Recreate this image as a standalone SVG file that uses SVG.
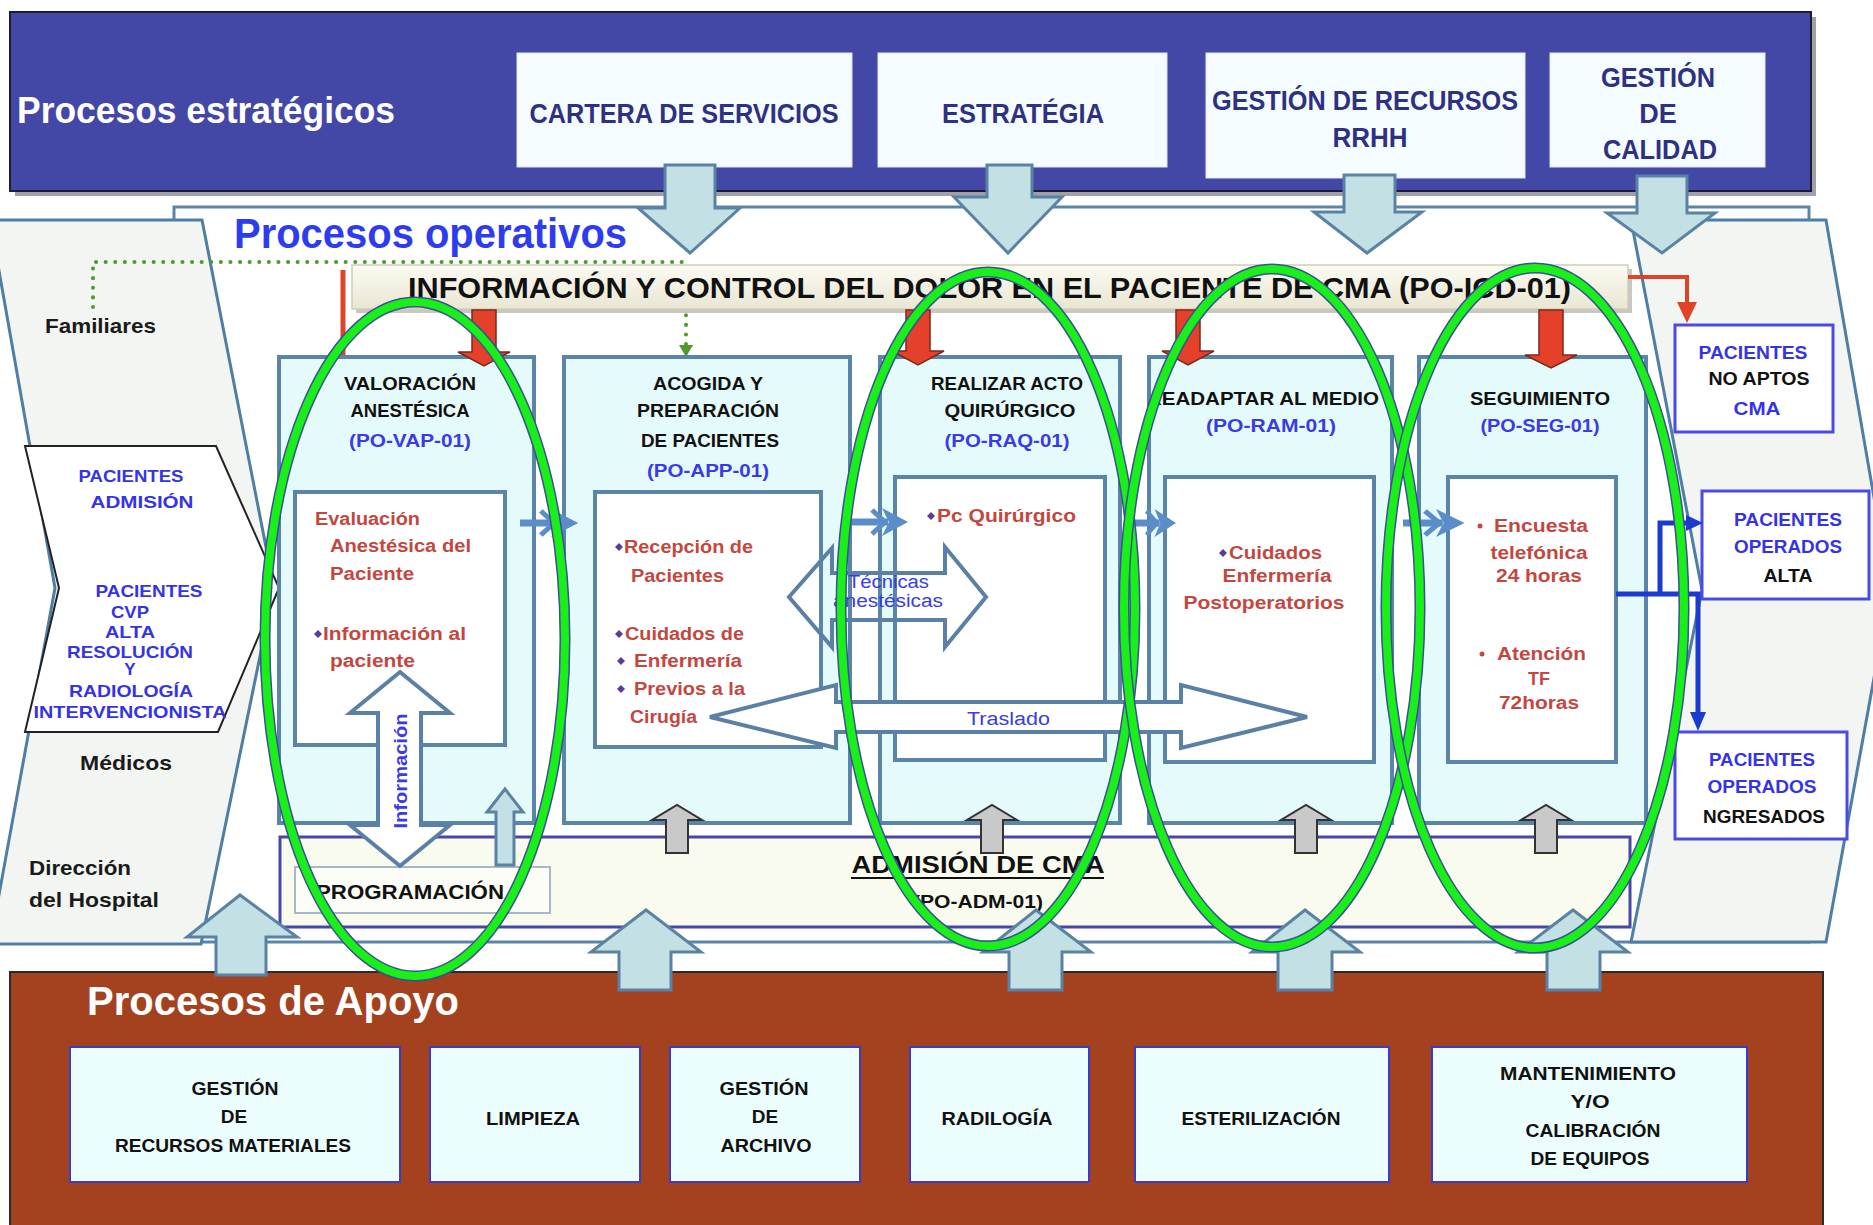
<svg xmlns="http://www.w3.org/2000/svg" width="1873" height="1225" viewBox="0 0 1873 1225">
<defs>
<style>
text{font-family:"Liberation Sans",Arial,sans-serif;}
.strat{font-size:27px;font-weight:bold;fill:#2e3183;text-anchor:middle}
.pt{font-size:18px;font-weight:bold;fill:#111;text-anchor:middle}
.pc{font-size:18px;font-weight:bold;fill:#3b3be6;text-anchor:middle}
.in{font-size:18px;font-weight:bold;fill:#c4473f}
.inm{font-size:18px;font-weight:bold;fill:#c4473f;text-anchor:middle}
.ch{font-size:17px;font-weight:bold;fill:#3434e6;text-anchor:middle}
.lbl{font-size:21px;font-weight:bold;fill:#1a1a1a}
.rb{font-size:18px;font-weight:bold;fill:#3434e6;text-anchor:middle}
.rk{font-size:18px;font-weight:bold;fill:#111;text-anchor:middle}
.ap{font-size:19px;font-weight:bold;fill:#111;text-anchor:middle}
.bl{font-size:18px;fill:#3b3be6}
.sbox{fill:#f5fcff;stroke:#dde8f0;stroke-width:1}
.lb{fill:#c3e1e4;stroke:#5a82a3;stroke-width:3;stroke-linejoin:miter}
.red{fill:#e5412a;stroke:#7a2a1a;stroke-width:1.5}
.pbox{fill:#e5fafb;stroke:#5a85a8;stroke-width:4}
.ibox{fill:#ffffff;stroke:#5a85a8;stroke-width:4}
.wa{fill:#ffffff;stroke:#5a80a5;stroke-width:4;stroke-linejoin:miter}
.ga{fill:#c9c9c9;stroke:#333;stroke-width:2}
.abox{fill:#ecfdfd;stroke:#3a3acc;stroke-width:2}
.rbox{fill:#ffffff;stroke:#4a4ae8;stroke-width:3}
.gray{fill:#f3f5f2;stroke:#4f7ea5;stroke-width:3}
.eo{fill:none;stroke:#3d4f95;stroke-width:11}
.eg{fill:none;stroke:#19f019;stroke-width:8}
.bul{fill:#5a3aa0}
</style>
<linearGradient id="barg" x1="0" y1="0" x2="0" y2="1">
<stop offset="0" stop-color="#fcfbf3"/>
<stop offset="1" stop-color="#e9e6d2"/>
</linearGradient>
<g id="fa" fill="#5b8dc8" stroke="#5b8dc8">
<rect x="0" y="-3.5" width="36" height="7" stroke="none"/>
<polyline points="20,-12 33,0 20,12" fill="none" stroke-width="5"/>
<polygon points="30,-14 56,0 30,14 37,0" stroke="none"/>
</g>
<clipPath id="clipRead"><rect x="1158" y="380" width="240" height="40"/></clipPath>
</defs>

<!-- Strategic band -->
<g id="estrategicos">
<rect x="15" y="17" width="1801" height="179" fill="#a0a0a8"/>
<rect x="10" y="12" width="1801" height="179" fill="#4347a6" stroke="#1c1c3a" stroke-width="2"/>
<text x="17" y="123" font-size="37" font-weight="bold" fill="#ffffff" textLength="378" lengthAdjust="spacingAndGlyphs">Procesos estratégicos</text>
</g>
<g id="cartera">
<rect class="sbox" x="517" y="53" width="335" height="114"/>
<text class="strat" x="684" y="123" textLength="309" lengthAdjust="spacingAndGlyphs">CARTERA DE SERVICIOS</text>
</g>
<g id="estrategia">
<rect class="sbox" x="878" y="53" width="289" height="114"/>
<text class="strat" x="1023" y="123" textLength="162" lengthAdjust="spacingAndGlyphs">ESTRATÉGIA</text>
</g>
<g id="rrhh">
<rect class="sbox" x="1206" y="53" width="319" height="125"/>
<text class="strat" x="1365" y="110" textLength="306" lengthAdjust="spacingAndGlyphs">GESTIÓN DE RECURSOS</text>
<text class="strat" x="1370" y="147" textLength="75" lengthAdjust="spacingAndGlyphs">RRHH</text>
</g>
<g id="calidad">
<rect class="sbox" x="1550" y="53" width="215" height="114"/>
<text class="strat" x="1658" y="87" textLength="114" lengthAdjust="spacingAndGlyphs">GESTIÓN</text>
<text class="strat" x="1658" y="123">DE</text>
<text class="strat" x="1660" y="159" textLength="114" lengthAdjust="spacingAndGlyphs">CALIDAD</text>
</g>

<!-- Operativos container -->
<g id="operativos">
<rect x="174" y="207" width="1635" height="735" fill="#ffffff" stroke="#5b85a8" stroke-width="3"/>
<polygon class="gray" points="-10,220 202,220 274,588 201,944 -10,944 55,588"/>
<polygon class="gray" points="1631,220 1826,220 1890,590 1826,942 1631,942 1702,590"/>
<text x="234" y="248" font-size="42" font-weight="bold" fill="#2e3cf0" textLength="393" lengthAdjust="spacingAndGlyphs">Procesos operativos</text>
</g>

<g id="pacientes-entrada">
<polygon points="25,446 216,446 279,588 218,732 25,732 59,588" fill="#ffffff" stroke="#222" stroke-width="2"/>
<text class="ch" x="131" y="482" textLength="105" lengthAdjust="spacingAndGlyphs">PACIENTES</text>
<text class="ch" x="142" y="508" textLength="103" lengthAdjust="spacingAndGlyphs">ADMISIÓN</text>
<text class="ch" x="149" y="597" textLength="107" lengthAdjust="spacingAndGlyphs">PACIENTES</text>
<text class="ch" x="130" y="618" textLength="38" lengthAdjust="spacingAndGlyphs">CVP</text>
<text class="ch" x="130" y="638" textLength="50" lengthAdjust="spacingAndGlyphs">ALTA</text>
<text class="ch" x="130" y="658" textLength="126" lengthAdjust="spacingAndGlyphs">RESOLUCIÓN</text>
<text class="ch" x="130" y="675">Y</text>
<text class="ch" x="131" y="697" textLength="124" lengthAdjust="spacingAndGlyphs">RADIOLOGÍA</text>
<text class="ch" x="130" y="718" textLength="193" lengthAdjust="spacingAndGlyphs">INTERVENCIONISTA</text>
</g>

<g id="familiares"><text class="lbl" x="45" y="333" textLength="111" lengthAdjust="spacingAndGlyphs">Familiares</text></g>
<g id="medicos"><text class="lbl" x="80" y="770" textLength="92" lengthAdjust="spacingAndGlyphs">Médicos</text></g>
<g id="direccion">
<text class="lbl" x="29" y="875" textLength="102" lengthAdjust="spacingAndGlyphs">Dirección</text>
<text class="lbl" x="29" y="907" textLength="130" lengthAdjust="spacingAndGlyphs">del Hospital</text>
</g>

<!-- Connectors -->
<g id="connectors">
<polygon class="lb" points="665,165 715,165 715,208 740,208 690,253 638,208 665,208"/>
<polygon class="lb" points="987,165 1032,165 1032,197 1062,197 1008,253 954,197 987,197"/>
<polygon class="lb" points="1344,175 1395,175 1395,212 1422,212 1367,253 1314,212 1344,212"/>
<polygon class="lb" points="1637,176 1687,176 1687,213 1715,213 1662,253 1607,213 1637,213"/>
<polyline points="93,307 93,262 686,262 686,346" fill="none" stroke="#4f9a2a" stroke-width="4" stroke-linecap="round" stroke-dasharray="0.1 9.5"/>
<polygon points="679,345 693,345 686,357" fill="#4f9a2a"/>
</g>

<g id="info-dolor">
<rect x="356" y="269" width="1276" height="44" fill="#c8c8c0"/>
<rect x="352" y="265" width="1276" height="44" fill="url(#barg)" stroke="#cfcdbb" stroke-width="1.5"/>
<text x="408" y="298" font-size="30" font-weight="bold" fill="#111" textLength="1163" lengthAdjust="spacingAndGlyphs">INFORMACIÓN Y CONTROL DEL DOLOR EN EL PACIENTE DE CMA (PO-ICD-01)</text>
</g>

<g id="red-connectors">
<line x1="343" y1="270" x2="343" y2="357" stroke="#e04428" stroke-width="5"/>
<polyline points="1628,277 1687,277 1687,304" fill="none" stroke="#e04428" stroke-width="4"/>
<polygon points="1677,302 1697,302 1687,323" fill="#e04428"/>
</g>

<!-- Process boxes -->
<g id="valoracion">
<rect class="pbox" x="279" y="357" width="255" height="466"/>
<text class="pt" x="410" y="390" textLength="132" lengthAdjust="spacingAndGlyphs">VALORACIÓN</text>
<text class="pt" x="410" y="417" textLength="119" lengthAdjust="spacingAndGlyphs">ANESTÉSICA</text>
<text class="pc" x="410" y="447" textLength="122" lengthAdjust="spacingAndGlyphs">(PO-VAP-01)</text>
<rect class="ibox" x="295" y="492" width="210" height="253"/>
<text class="in" x="315" y="525" textLength="105" lengthAdjust="spacingAndGlyphs">Evaluación</text>
<text class="in" x="330" y="552" textLength="141" lengthAdjust="spacingAndGlyphs">Anestésica del</text>
<text class="in" x="330" y="580" textLength="84" lengthAdjust="spacingAndGlyphs">Paciente</text>
<polygon class="bul" points="314,634 318,630 322,634 318,638"/>
<text class="in" x="323" y="640" textLength="143" lengthAdjust="spacingAndGlyphs">Información al</text>
<text class="in" x="330" y="667" textLength="85" lengthAdjust="spacingAndGlyphs">paciente</text>
</g>

<g id="acogida">
<rect class="pbox" x="564" y="357" width="286" height="466"/>
<text class="pt" x="708" y="390" textLength="110" lengthAdjust="spacingAndGlyphs">ACOGIDA Y</text>
<text class="pt" x="708" y="417" textLength="142" lengthAdjust="spacingAndGlyphs">PREPARACIÓN</text>
<text class="pt" x="710" y="447" textLength="138" lengthAdjust="spacingAndGlyphs">DE PACIENTES</text>
<text class="pc" x="708" y="477" textLength="122" lengthAdjust="spacingAndGlyphs">(PO-APP-01)</text>
<rect class="ibox" x="595" y="492" width="226" height="255"/>
<polygon class="bul" points="615,547 619,543 623,547 619,551"/>
<text class="in" x="624" y="553" textLength="129" lengthAdjust="spacingAndGlyphs">Recepción de</text>
<text class="in" x="631" y="582" textLength="93" lengthAdjust="spacingAndGlyphs">Pacientes</text>
<polygon class="bul" points="615,634 619,630 623,634 619,638"/>
<text class="in" x="625" y="640" textLength="119" lengthAdjust="spacingAndGlyphs">Cuidados de</text>
<polygon class="bul" points="617,661 621,657 625,661 621,665"/>
<text class="in" x="634" y="667" textLength="108" lengthAdjust="spacingAndGlyphs">Enfermería</text>
<polygon class="bul" points="617,689 621,685 625,689 621,693"/>
<text class="in" x="634" y="695" textLength="111" lengthAdjust="spacingAndGlyphs">Previos a la</text>
<text class="in" x="630" y="723" textLength="67" lengthAdjust="spacingAndGlyphs">Cirugía</text>
</g>

<g id="realizar">
<rect class="pbox" x="880" y="357" width="240" height="466"/>
<text class="pt" x="1007" y="390" textLength="152" lengthAdjust="spacingAndGlyphs">REALIZAR ACTO</text>
<text class="pt" x="1010" y="417" textLength="131" lengthAdjust="spacingAndGlyphs">QUIRÚRGICO</text>
<text class="pc" x="1007" y="447" textLength="125" lengthAdjust="spacingAndGlyphs">(PO-RAQ-01)</text>
<rect class="ibox" x="895" y="477" width="210" height="283"/>
<polygon class="bul" points="927,516 931,512 935,516 931,520"/>
<text class="in" x="937" y="522" textLength="139" lengthAdjust="spacingAndGlyphs">Pc Quirúrgico</text>
</g>

<g id="readaptar">
<rect class="pbox" x="1149" y="357" width="243" height="466"/>
<text class="pt" x="1147" y="405" style="text-anchor:start" textLength="232" lengthAdjust="spacingAndGlyphs" clip-path="url(#clipRead)">READAPTAR AL MEDIO</text>
<text class="pc" x="1271" y="432" textLength="130" lengthAdjust="spacingAndGlyphs">(PO-RAM-01)</text>
<rect class="ibox" x="1165" y="477" width="209" height="285"/>
<polygon class="bul" points="1219,553 1223,549 1227,553 1223,557"/>
<text class="in" x="1229" y="559" textLength="93" lengthAdjust="spacingAndGlyphs">Cuidados</text>
<text class="inm" x="1277" y="582" textLength="109" lengthAdjust="spacingAndGlyphs">Enfermería</text>
<text class="inm" x="1264" y="609" textLength="161" lengthAdjust="spacingAndGlyphs">Postoperatorios</text>
</g>

<g id="seguimiento">
<rect class="pbox" x="1419" y="357" width="227" height="466"/>
<text class="pt" x="1540" y="405" textLength="140" lengthAdjust="spacingAndGlyphs">SEGUIMIENTO</text>
<text class="pc" x="1540" y="432" textLength="119" lengthAdjust="spacingAndGlyphs">(PO-SEG-01)</text>
<rect class="ibox" x="1448" y="477" width="168" height="285"/>
<circle cx="1480" cy="526" r="2.5" fill="#c4473f"/>
<text class="in" x="1494" y="532" textLength="94" lengthAdjust="spacingAndGlyphs">Encuesta</text>
<text class="inm" x="1539" y="559" textLength="97" lengthAdjust="spacingAndGlyphs">telefónica</text>
<text class="inm" x="1539" y="582" textLength="86" lengthAdjust="spacingAndGlyphs">24 horas</text>
<circle cx="1482" cy="654" r="2.5" fill="#c4473f"/>
<text class="in" x="1497" y="660" textLength="89" lengthAdjust="spacingAndGlyphs">Atención</text>
<text class="inm" x="1539" y="685">TF</text>
<text class="inm" x="1539" y="709" textLength="80" lengthAdjust="spacingAndGlyphs">72horas</text>
</g>

<g id="flow-connectors">
<polygon class="red" points="472,310 496,310 496,352 510,352 484,366 458,352 472,352"/>
<polygon class="red" points="906,310 930,310 930,351 944,351 918,365 892,351 906,351"/>
<polygon class="red" points="1176,310 1200,310 1200,351 1214,351 1188,365 1162,351 1176,351"/>
<polygon class="red" points="1539,310 1563,310 1563,355 1577,355 1551,368 1525,355 1539,355"/>
<use href="#fa" transform="translate(520,523) scale(1.04,1)"/>
<use href="#fa" transform="translate(852,522)"/>
<use href="#fa" transform="translate(1130,523) scale(0.82,1)"/>
<use href="#fa" transform="translate(1403,523) scale(1.1,1)"/>
<polygon points="789,597 832,548 832,573 945,573 945,547 986,597 945,647 945,620 832,620 832,647" fill="none" stroke="#5a80a5" stroke-width="4"/>
<text class="bl" x="848" y="588" font-size="16" textLength="81" lengthAdjust="spacingAndGlyphs">Técnicas</text>
<text class="bl" x="833" y="607" font-size="16" textLength="110" lengthAdjust="spacingAndGlyphs">anestésicas</text>
<polygon class="wa" points="710,717 836,685 836,702 1181,702 1181,685 1307,717 1181,748 1181,732 836,732 836,748"/>
<text class="bl" x="967" y="725" font-size="19" textLength="83" lengthAdjust="spacingAndGlyphs">Traslado</text>
</g>

<g id="admision">
<rect x="280" y="837" width="1350" height="90" fill="#fafbef" stroke="#4747a6" stroke-width="3"/>
<text x="978" y="873" font-size="24" font-weight="bold" fill="#111" text-anchor="middle" textLength="253" lengthAdjust="spacingAndGlyphs">ADMISIÓN DE CMA</text>
<line x1="851" y1="878" x2="1104" y2="878" stroke="#111" stroke-width="2"/>
<text x="978" y="908" font-size="18" font-weight="bold" fill="#111" text-anchor="middle" textLength="130" lengthAdjust="spacingAndGlyphs">(PO-ADM-01)</text>
</g>
<g id="programacion">
<rect x="295" y="867" width="255" height="46" fill="#fdfdf8" stroke="#a9b8c6" stroke-width="2"/>
<text x="316" y="899" font-size="21" font-weight="bold" fill="#111" textLength="188" lengthAdjust="spacingAndGlyphs">PROGRAMACIÓN</text>
</g>

<g id="vertical-connectors">
<polygon class="wa" points="400,672 450,713 421,713 421,825 450,825 400,866 350,825 378,825 378,713 350,713"/>
<text transform="translate(407,771) rotate(-90)" font-size="18" font-weight="bold" fill="#3b3be6" text-anchor="middle" textLength="115" lengthAdjust="spacingAndGlyphs">Información</text>
<polygon class="lb" points="496,865 514,865 514,812 523,812 505,789 487,812 496,812"/>
<polygon class="ga" points="666,853 688,853 688,820 702,820 677,805 652,820 666,820"/>
<polygon class="ga" points="981,853 1003,853 1003,820 1017,820 992,805 967,820 981,820"/>
<polygon class="ga" points="1295,853 1317,853 1317,820 1331,820 1306,805 1281,820 1295,820"/>
<polygon class="ga" points="1535,853 1557,853 1557,820 1571,820 1546,805 1521,820 1535,820"/>
</g>

<g id="salida">
<rect class="rbox" x="1675" y="325" width="158" height="107"/>
<text class="rb" x="1753" y="359" textLength="109" lengthAdjust="spacingAndGlyphs">PACIENTES</text>
<text class="rk" x="1759" y="385" textLength="101" lengthAdjust="spacingAndGlyphs">NO APTOS</text>
<text class="rb" x="1757" y="415" textLength="47" lengthAdjust="spacingAndGlyphs">CMA</text>
</g>
<g id="alta">
<rect class="rbox" x="1702" y="491" width="167" height="108"/>
<text class="rb" x="1788" y="526" textLength="108" lengthAdjust="spacingAndGlyphs">PACIENTES</text>
<text class="rb" x="1788" y="553" textLength="108" lengthAdjust="spacingAndGlyphs">OPERADOS</text>
<text class="rk" x="1788" y="582" textLength="49" lengthAdjust="spacingAndGlyphs">ALTA</text>
</g>
<g id="ingresados">
<rect class="rbox" x="1675" y="732" width="172" height="107"/>
<text class="rb" x="1762" y="766" textLength="106" lengthAdjust="spacingAndGlyphs">PACIENTES</text>
<text class="rb" x="1762" y="793" textLength="109" lengthAdjust="spacingAndGlyphs">OPERADOS</text>
<text class="rk" x="1764" y="823" textLength="122" lengthAdjust="spacingAndGlyphs">NGRESADOS</text>
</g>
<g id="blue-connectors">
<polyline points="1616,594 1698,594 1698,714" fill="none" stroke="#1a3ad0" stroke-width="5"/>
<polygon points="1690,712 1706,712 1698,731" fill="#1a3ad0"/>
<polyline points="1660,594 1660,523 1688,523" fill="none" stroke="#1a3ad0" stroke-width="5"/>
<polygon points="1686,515 1686,531 1703,523" fill="#1a3ad0"/>
</g>

<!-- Apoyo band -->
<g id="apoyo">
<rect x="10" y="972" width="1813" height="260" fill="#a4411f" stroke="#2a2a2a" stroke-width="2"/>
<text x="87" y="1015" font-size="40" font-weight="bold" fill="#ffffff" textLength="372" lengthAdjust="spacingAndGlyphs">Procesos de Apoyo</text>
</g>
<g id="recursos-materiales">
<rect class="abox" x="70" y="1047" width="330" height="135"/>
<text class="ap" x="235" y="1095" textLength="87" lengthAdjust="spacingAndGlyphs">GESTIÓN</text>
<text class="ap" x="234" y="1123">DE</text>
<text class="ap" x="233" y="1152" textLength="236" lengthAdjust="spacingAndGlyphs">RECURSOS MATERIALES</text>
</g>
<g id="limpieza">
<rect class="abox" x="430" y="1047" width="210" height="135"/>
<text class="ap" x="533" y="1125" textLength="94" lengthAdjust="spacingAndGlyphs">LIMPIEZA</text>
</g>
<g id="archivo">
<rect class="abox" x="670" y="1047" width="190" height="135"/>
<text class="ap" x="764" y="1095" textLength="89" lengthAdjust="spacingAndGlyphs">GESTIÓN</text>
<text class="ap" x="765" y="1123">DE</text>
<text class="ap" x="766" y="1152" textLength="91" lengthAdjust="spacingAndGlyphs">ARCHIVO</text>
</g>
<g id="radiologia">
<rect class="abox" x="910" y="1047" width="179" height="135"/>
<text class="ap" x="997" y="1125" textLength="111" lengthAdjust="spacingAndGlyphs">RADILOGÍA</text>
</g>
<g id="esterilizacion">
<rect class="abox" x="1135" y="1047" width="254" height="135"/>
<text class="ap" x="1261" y="1125" textLength="159" lengthAdjust="spacingAndGlyphs">ESTERILIZACIÓN</text>
</g>
<g id="mantenimiento">
<rect class="abox" x="1432" y="1047" width="315" height="135"/>
<text class="ap" x="1588" y="1080" textLength="176" lengthAdjust="spacingAndGlyphs">MANTENIMIENTO</text>
<text class="ap" x="1590" y="1108" textLength="39" lengthAdjust="spacingAndGlyphs">Y/O</text>
<text class="ap" x="1593" y="1137" textLength="135" lengthAdjust="spacingAndGlyphs">CALIBRACIÓN</text>
<text class="ap" x="1590" y="1165" textLength="119" lengthAdjust="spacingAndGlyphs">DE EQUIPOS</text>
</g>

<g id="support-connectors">
<polygon class="lb" points="216,975 266,975 266,937 297,937 240,895 187,937 216,937"/>
<polygon class="lb" points="619,990 671,990 671,952 701,952 646,910 591,952 619,952"/>
<polygon class="lb" points="1009,990 1062,990 1062,952 1091,952 1036,910 983,952 1009,952"/>
<polygon class="lb" points="1278,990 1332,990 1332,952 1360,952 1305,910 1252,952 1278,952"/>
<polygon class="lb" points="1547,990 1600,990 1600,952 1628,952 1573,910 1518,952 1547,952"/>
</g>

<!-- Green highlight ellipses -->
<g id="highlights">
<ellipse class="eo" cx="415" cy="639" rx="150" ry="337"/>
<ellipse class="eg" cx="415" cy="639" rx="150" ry="337"/>
<ellipse class="eo" cx="988" cy="609" rx="147" ry="337"/>
<ellipse class="eg" cx="988" cy="609" rx="147" ry="337"/>
<ellipse class="eo" cx="1272" cy="608" rx="148" ry="339"/>
<ellipse class="eg" cx="1272" cy="608" rx="148" ry="339"/>
<ellipse class="eo" cx="1535" cy="608" rx="149" ry="340"/>
<ellipse class="eg" cx="1535" cy="608" rx="149" ry="340"/>
</g>
</svg>
